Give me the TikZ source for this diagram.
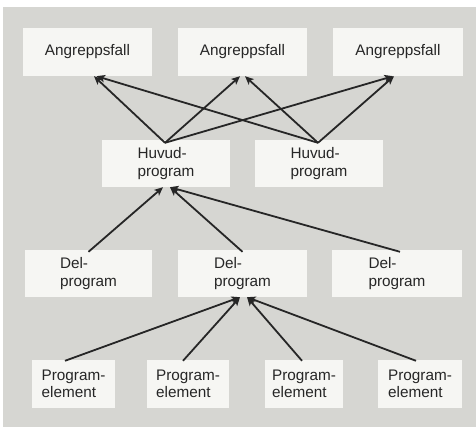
\documentclass[tikz,border=0pt]{standalone}
\usepackage{fontspec}
\setmainfont{Liberation Sans}
\usetikzlibrary{arrows.meta}
\definecolor{panel}{RGB}{214,214,210}
\definecolor{boxfill}{RGB}{246,246,243}
\definecolor{ink}{RGB}{38,38,38}
\begin{document}
\begin{tikzpicture}[x=1pt,y=-1pt,
  box/.style={fill=boxfill,draw=none,inner sep=0pt,align=left,
    font=\fontsize{15.3}{17.5}\selectfont,text=ink},
  link/.style={draw=ink,line width=1.8pt,
    -{Stealth[length=8.5pt,width=7.5pt,inset=2pt]}}]
  % background panel
  \useasboundingbox (0,0) rectangle (476,427);
  \fill[white] (0,0) rectangle (476,427);
  \fill[panel] (3,7) rectangle (476,427);
  % top row: attack cases
  \node[box,minimum width=129pt,minimum height=48pt] (A1) at (87.5,52) {Angreppsfall};
  \node[box,minimum width=129pt,minimum height=48pt] (A2) at (242.5,52) {Angreppsfall};
  \node[box,minimum width=130pt,minimum height=48pt] (A3) at (398,52) {Angreppsfall};
  % main programs
  \node[box,minimum width=128pt,minimum height=47pt] (H1) at (166,163.5) {Huvud-\\program};
  \node[box,minimum width=128pt,minimum height=47pt] (H2) at (319,163.5) {Huvud-\\program};
  % sub-programs
  \node[box,minimum width=127pt,minimum height=47pt] (D1) at (88.5,273.5) {Del-\\program};
  \node[box,minimum width=129pt,minimum height=47pt] (D2) at (242.5,273.5) {Del-\\program};
  \node[box,minimum width=130pt,minimum height=47pt] (D3) at (397,273.5) {Del-\\program};
  % program elements
  \node[box,minimum width=83pt,minimum height=48pt] (P1) at (73.5,384) {Program-\\element};
  \node[box,minimum width=82pt,minimum height=48pt] (P2) at (188,384) {Program-\\element};
  \node[box,minimum width=78pt,minimum height=48pt] (P3) at (304,384) {Program-\\element};
  \node[box,minimum width=84pt,minimum height=48pt] (P4) at (420,384) {Program-\\element};
  % main programs -> attack cases
  \draw[link] ([xshift=-1pt,yshift=-3pt]H1.north) -- ([xshift=6.5pt]A1.south);
  \draw[link] ([xshift=-1pt,yshift=-3pt]H1.north) -- ([xshift=-2.5pt]A2.south);
  \draw[link] ([xshift=-1pt,yshift=-3pt]H1.north) -- ([xshift=-5pt]A3.south);
  \draw[link] ([xshift=-1pt,yshift=-3pt]H2.north) -- ([xshift=9pt]A1.south);
  \draw[link] ([xshift=-1pt,yshift=-3pt]H2.north) -- ([xshift=2.5pt]A2.south);
  \draw[link] ([xshift=-1pt,yshift=-3pt]H2.north) -- ([xshift=-4pt]A3.south);
  % sub-programs -> main program
  \draw[link] ([yshift=-2pt]D1.north) -- ([xshift=-3pt]H1.south);
  \draw[link] ([yshift=-2pt]D2.north) -- ([xshift=4pt]H1.south);
  \draw[link] ([xshift=3pt,yshift=-2pt]D3.north) -- ([xshift=4pt]H1.south);
  % program elements -> sub-program
  \draw[link] ([xshift=-8.5pt,yshift=-1pt]P1.north) -- ([xshift=-2.5pt]D2.south);
  \draw[link] ([xshift=-5pt,yshift=-1pt]P2.north) -- ([xshift=-2.5pt]D2.south);
  \draw[link] ([xshift=-2pt,yshift=-1pt]P3.north) -- ([xshift=4.5pt]D2.south);
  \draw[link] ([xshift=-4pt,yshift=-1pt]P4.north) -- ([xshift=4.5pt]D2.south);
\end{tikzpicture}
\end{document}
